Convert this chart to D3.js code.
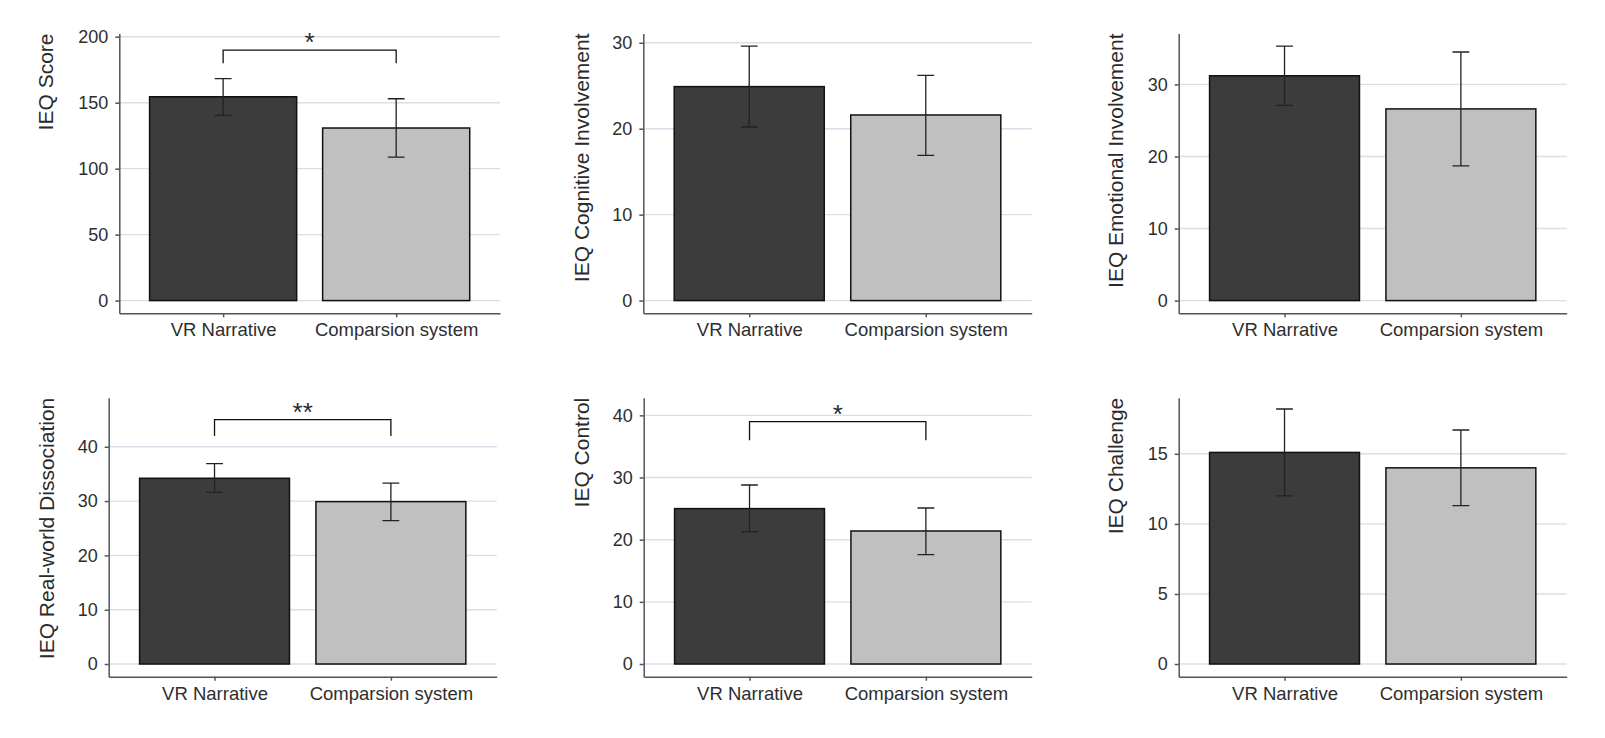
<!DOCTYPE html>
<head>
<style>
body { margin: 0; background: #fff; }
text { font-family: "Liberation Sans", Arial, sans-serif; fill: #2a2a2a; }
.grid line { stroke: #d8dfe8; stroke-width: 1.4px; }
.axis path, .axis line { stroke: #4f555b; stroke-width: 1.5px; }
.axis text { font-size: 18px; fill: #2e2e2e; }
.bar { stroke: #111; stroke-width: 1.5px; }
.err { stroke: #222; stroke-width: 1.3px; fill: none; }
.bracket { stroke: #111; stroke-width: 1.3px; fill: none; }
</style>
<meta charset="utf-8">
<title></title>
</head>

<body>
<script src="https://d3js.org/d3.v7.min.js"></script>

<script>
// groups on the x axis
var categories = ["VR Narrative", "Comparsion system"];

// one panel per IEQ measure
var measures = ["IEQ Score", "IEQ Cognitive Involvement", "IEQ Emotional Involvement",
                "IEQ Real-world Dissociation", "IEQ Control", "IEQ Challenge"];

// means and error bar ends
var vrMeans   = [154.5, 24.9, 31.2, 34.2, 25.0, 15.1];
var vrLow     = [140.4, 20.2, 27.1, 31.6, 21.3, 12.0];
var vrHigh    = [168.2, 29.6, 35.3, 36.9, 28.8, 18.2];
var compMeans = [130.8, 21.6, 26.6, 29.9, 21.4, 14.0];
var compLow   = [108.8, 16.9, 18.7, 26.4, 17.6, 11.3];
var compHigh  = [153.0, 26.2, 34.5, 33.3, 25.1, 16.7];

// y axis ticks and data top of each panel
var tickValues = [[0, 50, 100, 150, 200], [0, 10, 20, 30], [0, 10, 20, 30],
                  [0, 10, 20, 30, 40], [0, 10, 20, 30, 40], [0, 5, 10, 15]];
var yMax = [192.8, 29.6, 35.3, 46.7, 40.8, 18.1];

// significance brackets
var sigLabels   = ["*", "", "", "**", "*", ""];
var bracketTop  = [189.9, null, null, 45.0, 39.0, null];
var bracketFoot = [179.8, null, null, 42.0, 36.0, null];

var width = 1605, height = 738;

// panel boxes in pixels
var rows = [{top: 33.5, bottom: 313.3}, {top: 397.7, bottom: 676.7}];
var lefts  = [119.3, 643.3, 1178.7, 108.7, 643.7, 1178.7];
var rights = [500, 1031.7, 1566.7, 496.7, 1031.7, 1566.7];
var titleX = [52.7, 589.3, 1123.3, 54, 589.3, 1123.3];

var fills = ["#3c3c3c", "#c0c0c0"];

var svg = d3.select("body").append("svg")
            .attr("width", width)
            .attr("height", height);

svg.append("rect").attr("width", width).attr("height", height).attr("fill", "#fff");

measures.forEach(function(title, i) {
    var row = rows[Math.floor(i / 3)];
    var left = lefts[i], right = rights[i];

    var x = d3.scalePoint().domain(categories).range([left, right]).padding(0.6);
    var y = d3.scaleLinear().domain([-0.05 * yMax[i], 1.05 * yMax[i]]).range([row.bottom, row.top]);
    var bw = x.step() * 0.85;

    var g = svg.append("g");

    // horizontal grid
    g.append("g").attr("class", "grid")
      .selectAll("line").data(tickValues[i]).enter().append("line")
      .attr("x1", left).attr("x2", right)
      .attr("y1", function(d) { return y(d); })
      .attr("y2", function(d) { return y(d); });

    var data = [
        {cat: categories[0], mean: vrMeans[i], lo: vrLow[i], hi: vrHigh[i], fill: fills[0]},
        {cat: categories[1], mean: compMeans[i], lo: compLow[i], hi: compHigh[i], fill: fills[1]}
    ];

    g.selectAll(".bar").data(data).enter().append("rect")
      .attr("class", "bar")
      .attr("x", function(d) { return x(d.cat) - bw / 2; })
      .attr("y", function(d) { return y(d.mean); })
      .attr("width", bw)
      .attr("height", function(d) { return y(0) - y(d.mean); })
      .attr("fill", function(d) { return d.fill; });

    // error bars
    var capW = 8.4;
    g.selectAll(".err").data(data).enter().append("path")
      .attr("class", "err")
      .attr("d", function(d) {
          var cx = x(d.cat);
          return "M" + (cx - capW) + "," + y(d.hi) + "H" + (cx + capW) +
                 "M" + cx + "," + y(d.hi) + "V" + y(d.lo) +
                 "M" + (cx - capW) + "," + y(d.lo) + "H" + (cx + capW);
      });

    // axes
    g.append("g").attr("class", "axis")
      .attr("transform", "translate(" + left + ",0)")
      .call(d3.axisLeft(y).tickValues(tickValues[i]).tickSize(4).tickSizeOuter(0).tickPadding(7));

    g.append("g").attr("class", "axis xaxis")
      .attr("transform", "translate(0," + row.bottom + ")")
      .call(d3.axisBottom(x).tickSize(4).tickSizeOuter(0).tickPadding(6));
    g.selectAll(".xaxis text").style("font-size", "18.5px");

    // y title, anchored to the top of the panel
    g.append("text")
      .attr("transform", "translate(" + titleX[i] + "," + row.top + ") rotate(-90)")
      .attr("text-anchor", "end")
      .style("font-size", "21px")
      .text(title);

    // significance bracket
    if (sigLabels[i]) {
        var x1 = x(categories[0]), x2 = x(categories[1]);
        g.append("path").attr("class", "bracket")
          .attr("d", "M" + x1 + "," + y(bracketFoot[i]) + "V" + y(bracketTop[i]) +
                     "H" + x2 + "V" + y(bracketFoot[i]));
        g.append("text")
          .attr("x", (x1 + x2) / 2)
          .attr("y", y(bracketTop[i]) + 1)
          .attr("text-anchor", "middle")
          .style("font-size", "26px")
          .text(sigLabels[i]);
    }
});
</script>
</body>
</html>
